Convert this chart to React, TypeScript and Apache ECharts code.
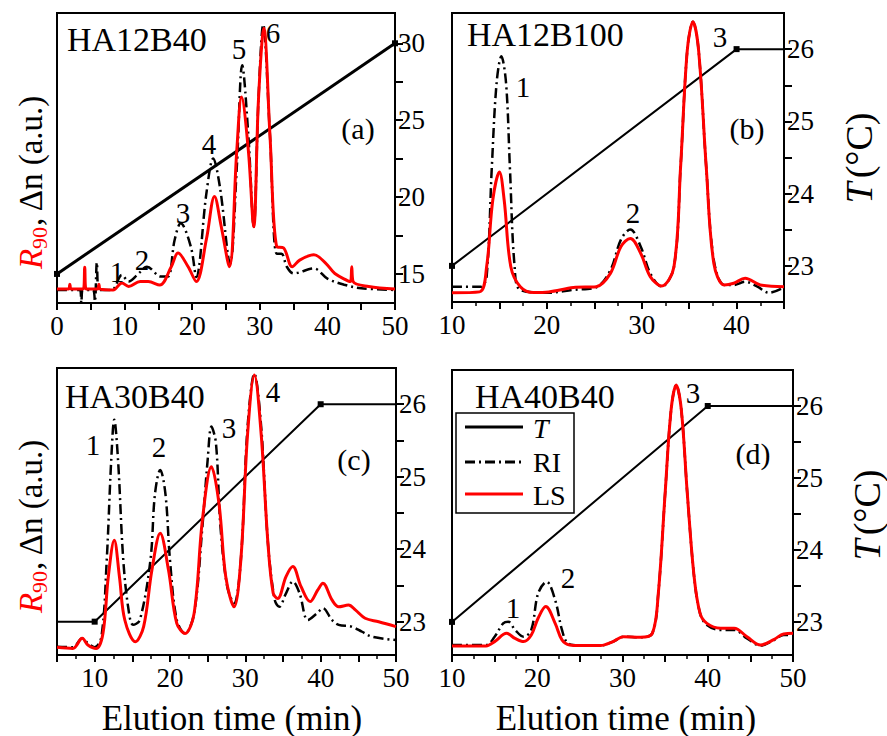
import React, { useEffect, useRef } from "react";
import * as echarts from "echarts";

const FONT = "Liberation Serif";

// ---- data: [elution time (min), signal (a.u., 0-100)] ----
const riA = [[0,4.5],[3.4,4.5],[3.6,0],[3.8,4.5],[5.3,4.5],[5.6,0.5],[5.9,14],[6.2,4.5],[8.1,4.5],[9.6,9.7],[10.6,7.4],[12,10],[13.3,12.5],[15.4,9.1],[16.4,9.1],[17.4,21.7],[18.3,27.5],[19.8,19.4],[20.6,9],[22.1,37.8],[23.1,49.8],[24.1,40],[25.6,13.6],[26.6,47],[27.4,82],[28.3,58],[29.1,26.3],[29.8,70],[30.5,96],[31.5,58],[32.5,17],[33.2,17],[34,12.5],[35,10.2],[38,11.9],[40,8.4],[42.5,6.3],[45,5.1],[50,4.5]];
const lsA = [[0,4.8],[1.7,4.8],[1.9,6.5],[2.1,4.8],[3.9,4.8],[4.1,12.3],[4.3,4.8],[6,4.8],[6.2,6.5],[6.4,4.8],[8.3,4.5],[9.6,6.9],[10.6,5.7],[12.3,7.4],[13.5,7.4],[15.2,6.2],[16.9,12.5],[17.9,17.2],[19.4,12.5],[20.6,7.4],[22.1,22],[23.3,36.7],[24.3,26.3],[25.5,12.5],[26.6,52.8],[27.3,71],[28.3,52.8],[29.1,26.3],[29.8,70],[30.6,94.7],[31.5,58],[32.5,19.4],[33.5,19],[34.8,12.5],[35.9,14.8],[38,16.6],[39.8,13.6],[41.1,10.2],[43.4,7.4],[43.6,12.5],[43.8,7.4],[46.1,5.7],[50,4.8]];
const tempA = [[0,15],[50,30]];

const riB = [[10,5.3],[12.6,5.3],[13.1,5.3],[13.65,8.8],[14.2,46.8],[14.7,75.7],[15.2,85],[15.7,75.7],[16.1,46.8],[16.6,12.2],[17.2,4.2],[20.2,3.2],[22.8,4.2],[25.2,5.1],[26.7,11],[27.8,21.5],[28.8,25.1],[29.9,19.1],[30.9,9.9],[32.1,5.3],[33.4,12.2],[34.1,46.8],[34.8,87],[35.4,97],[36,87],[36.8,46.8],[37.6,14.5],[38.7,5.9],[39.7,5.9],[40.9,7],[42.2,5.3],[43.4,3.2],[45,5.1]];
const lsB = [[10,3.2],[12.9,3.5],[13.65,12.2],[14.3,35.3],[15,45],[15.5,35.3],[16.2,12.2],[17.2,5.3],[18.6,3.3],[20.2,3.5],[22.8,5],[25.2,5.3],[26.7,9.9],[27.8,19.1],[28.8,22],[29.9,16.8],[30.9,8.8],[32.1,5.5],[33.4,12.2],[34.1,46.8],[34.8,87],[35.4,97],[36,87],[36.8,46.8],[37.6,13.4],[38.7,5.9],[39.7,6.5],[40.9,8.2],[42.5,5.9],[45,5.3]];
const tempB = [[10,23],[40,26],[45,26]];

const riC = [[5,2.9],[7.1,2.7],[8.35,5.8],[9.1,4.1],[10,2.7],[10.9,6.4],[11.6,33],[12.2,68],[12.6,82],[13.1,68],[13.8,33],[14.5,15.7],[15.1,10.5],[16,12.2],[17.4,33],[18,56],[18.7,64.5],[19.4,56],[20,33],[20.9,12.2],[22,7.5],[23.2,14.5],[24.3,44.7],[25,68],[25.5,79.6],[26.1,73.8],[26.7,44.7],[27.6,23.8],[28.5,18],[29.4,33],[30.3,79.6],[31.2,98],[32.1,79.6],[33,39],[33.9,19.2],[34.5,16.8],[35.4,21.5],[36.3,25.6],[37.2,21.5],[38.3,12.2],[39.5,14.5],[40.3,16.3],[41.5,12.2],[42.4,10.5],[44.1,9.9],[45.5,8.1],[46.8,6.4],[50,5.2]];
const lsC = [[5,2.7],[7.1,2.3],[8.35,5.8],[9.1,3.5],[10.2,2.3],[11.1,7.5],[11.8,27],[12.6,40],[13.3,27],[14,12.2],[15.4,4.6],[16.5,9.9],[17.6,29.6],[18.7,42.4],[19.8,29.6],[20.9,11],[22,7.5],[23.2,14.5],[24.3,47],[25.5,65.6],[26.5,52.8],[27.4,27.3],[28.5,16.8],[29.4,33],[30.3,77],[31.2,97.6],[32.1,77],[33,39],[33.7,21.5],[34.3,19.7],[35.4,27.3],[36.3,30.8],[37.4,23.8],[38.6,18.6],[39.6,22.6],[40.3,25],[41.5,19.2],[42.4,16.8],[43.7,17.4],[44.6,15.7],[45.9,12.8],[47.7,11.6],[50,9.9]];
const tempC = [[5,23],[10,23],[40,26],[50,26]];

const riD = [[10,3.5],[14,3.5],[15,6.4],[16,11.1],[16.6,11.7],[17.4,8.8],[18.4,6.4],[19.3,8.8],[20.1,21.6],[21.1,25.7],[22.1,19.3],[22.9,8.8],[23.6,4.1],[25,3.3],[27.4,3.3],[28.9,4.7],[30.1,6.4],[32.1,6.2],[33.5,7.6],[34.2,21.6],[35,56.7],[35.7,86],[36.3,94.7],[36.9,86],[37.6,56.7],[38.4,27.5],[39.1,14.6],[39.9,10.5],[41.5,8.8],[43.1,8.8],[44.6,5.8],[46.2,3.3],[47.8,5.3],[48.9,7],[50,7]];
const lsD = [[10,3.2],[14,3.2],[15,4.7],[16.4,7.6],[17.4,5.8],[18.4,4.7],[19.3,7],[20.1,12.9],[21,17],[22.1,11.1],[22.9,5.3],[23.8,3.5],[25,3.3],[27.4,3.3],[28.9,4.7],[30.1,6.4],[32.1,6.2],[33.5,7.6],[34.2,21.6],[35,56.7],[35.7,86],[36.3,94.7],[36.9,86],[37.6,56.7],[38.4,27.5],[39.1,14.6],[39.9,11.1],[41.5,9.4],[43.1,9.4],[44.6,6.4],[46.2,3.5],[47.8,5.5],[48.9,7.4],[50,7.6]];
const tempD = [[10,23],[40,26],[50,26]];

// axis tick labels
const xLabelStep = 10;
const tLabelsA = [15, 20, 25, 30];
const tTicksA = [15, 17.5, 20, 22.5, 25, 27.5, 30];
const tLabelsBCD = [23, 24, 25, 26];
const tTicksBCD = [23, 23.5, 24, 24.5, 25, 25.5, 26];

const panels = [
  { ri: riA, ls: lsA, temp: tempA, xMin: 0, xMax: 50, tMin: 13.11, tMax: 31.97, tLabels: tLabelsA, tTicks: tTicksA, minor: false, tWidth: 3,
    grid: { left: 57, top: 13, width: 338, height: 290 } },
  { ri: riB, ls: lsB, temp: tempB, xMin: 10, xMax: 45, tMin: 22.5, tMax: 26.5, tLabels: tLabelsBCD, tTicks: tTicksBCD, minor: true, tWidth: 2,
    grid: { left: 452, top: 13, width: 332, height: 289 } },
  { ri: riC, ls: lsC, temp: tempC, xMin: 5, xMax: 50, tMin: 22.54, tMax: 26.5, tLabels: tLabelsBCD, tTicks: tTicksBCD, minor: true, tWidth: 2,
    grid: { left: 57, top: 368, width: 339, height: 287 } },
  { ri: riD, ls: lsD, temp: tempD, xMin: 10, xMax: 50, tMin: 22.54, tMax: 26.5, tLabels: tLabelsBCD, tTicks: tTicksBCD, minor: true, tWidth: 2,
    grid: { left: 452, top: 370, width: 341, height: 285 } },
];

const RI_DASH = [10, 4, 2, 4];

function tempData(temp: number[][]) {
  const slope = (a: number[], b: number[]) => a[1] !== b[1];
  return temp.map((p, i) => {
    const prev = i > 0 ? slope(temp[i - 1], p) : null;
    const next = i < temp.length - 1 ? slope(p, temp[i + 1]) : null;
    let mark = false;
    if (prev === null) mark = !!next;
    else if (next === null) mark = !!prev;
    else mark = prev !== next;
    return { value: p, symbol: mark ? "rect" : "none", symbolSize: 6 };
  });
}

function txt(x: number, y: number, text: string, size: number, extra: any = {}) {
  return {
    type: "text", x, y, z: 50,
    style: { text, fontSize: size, fontFamily: FONT, fill: "#000", align: "center", verticalAlign: "middle", ...extra },
  };
}

function yTitle(x: number, y: number) {
  return {
    type: "group", x, y, rotation: Math.PI / 2, z: 50,
    children: [
      { type: "text", x: 0, y: 0, style: { text: "R", fontSize: 33, fontStyle: "italic", fontFamily: FONT, fill: "#ff0000", align: "left", verticalAlign: "middle" } },
      { type: "text", x: 20, y: 8, style: { text: "90", fontSize: 22, fontFamily: FONT, fill: "#ff0000", align: "left", verticalAlign: "middle" } },
      { type: "text", x: 43, y: 0, style: { text: ", Δn (a.u.)", fontSize: 33, fontFamily: FONT, fill: "#000", align: "left", verticalAlign: "middle" } },
    ],
  };
}

function tTitle(x: number, y: number) {
  return {
    type: "text", x, y, rotation: Math.PI / 2, z: 50,
    style: {
      text: "{i|T}{n|(°C)}", align: "center", verticalAlign: "middle",
      rich: {
        i: { fontSize: 38, fontStyle: "italic", fontFamily: FONT, fill: "#000", padding: [0, 4, 0, 0] },
        n: { fontSize: 38, fontFamily: FONT, fill: "#000" },
      },
    },
  };
}

export default function App() {
  const ref = useRef<HTMLDivElement>(null);
  useEffect(() => {
    if (!ref.current) return;
    const chart = echarts.init(ref.current, null, { renderer: "svg" });
    const grid: any[] = [];
    const xAxis: any[] = [];
    const yAxis: any[] = [];
    const series: any[] = [];
    panels.forEach((p, i) => {
      grid.push({ ...p.grid, show: true, borderColor: "#000", borderWidth: 2, backgroundColor: "transparent" });
      xAxis.push({
        type: "value", gridIndex: i, min: p.xMin, max: p.xMax, interval: 5,
        axisLine: { show: true, onZero: false, lineStyle: { color: "#000", width: 2 } },
        axisTick: { show: true, inside: false, length: 7, lineStyle: { color: "#000", width: 2 } },
        minorTick: { show: p.minor, splitNumber: 2, length: 4, lineStyle: { color: "#000", width: 1.5 } },
        axisLabel: {
          color: "#000", fontSize: 27, fontFamily: FONT, margin: 9, showMinLabel: true, showMaxLabel: true,
          formatter: (v: number) => (v % xLabelStep === 0 ? String(v) : ""),
        },
        splitLine: { show: false }, minorSplitLine: { show: false },
      });
      yAxis.push({ type: "value", gridIndex: i, min: 0, max: 100, show: false });
      yAxis.push({
        type: "value", gridIndex: i, position: "right", min: p.tMin, max: p.tMax,
        axisLine: { show: true, onZero: false, lineStyle: { color: "#000", width: 2 } },
        axisTick: { show: true, inside: false, length: 8, customValues: p.tTicks, lineStyle: { color: "#000", width: 2 } },
        axisLabel: { show: true, customValues: p.tLabels, color: "#000", fontSize: 27, fontFamily: FONT, margin: 3 },
        splitLine: { show: false },
      });
      series.push({
        type: "line", xAxisIndex: i, yAxisIndex: 2 * i + 1, data: tempData(p.temp),
        lineStyle: { color: "#000", width: p.tWidth }, itemStyle: { color: "#000" }, showSymbol: true, z: 3,
      });
      series.push({
        type: "line", xAxisIndex: i, yAxisIndex: 2 * i, data: p.ri, smooth: 0.35, symbol: "none",
        lineStyle: { color: "#000", width: 2.5, type: RI_DASH }, z: 4,
      });
      series.push({
        type: "line", xAxisIndex: i, yAxisIndex: 2 * i, data: p.ls, smooth: 0.35, symbol: "none",
        lineStyle: { color: "#ff0000", width: 3 }, z: 5,
      });
    });

    const graphic: any[] = [
      // panel (a)
      txt(67, 39, "HA12B40", 34, { align: "left" }),
      txt(117, 272, "1", 29), txt(142, 260, "2", 29), txt(183, 213, "3", 29),
      txt(209, 144, "4", 29), txt(239, 49, "5", 29), txt(273, 33, "6", 29),
      txt(358, 128, "(a)", 30),
      yTitle(31, 269),
      // panel (b)
      txt(467, 34, "HA12B100", 34, { align: "left" }),
      txt(523, 87, "1", 29), txt(633, 213, "2", 29), txt(720, 37, "3", 29),
      txt(747, 128, "(b)", 30),
      tTitle(859, 158),
      // panel (c)
      txt(65, 396, "HA30B40", 34, { align: "left" }),
      txt(93, 445, "1", 29), txt(159, 447, "2", 29), txt(229, 428, "3", 29), txt(273, 392, "4", 29),
      txt(354, 459, "(c)", 30),
      yTitle(31, 613),
      txt(232, 718, "Elution time (min)", 35),
      // panel (d)
      txt(475, 396, "HA40B40", 34, { align: "left" }),
      txt(513, 608, "1", 29), txt(568, 578, "2", 29), txt(693, 393, "3", 29),
      txt(753, 453, "(d)", 30),
      tTitle(867, 515),
      txt(626, 718, "Elution time (min)", 35),
      // legend (d)
      { type: "rect", z: 60, shape: { x: 456, y: 413, width: 118, height: 100 }, style: { fill: "#fff", stroke: "#000", lineWidth: 1.5 } },
      { type: "line", z: 61, shape: { x1: 465, y1: 427, x2: 523, y2: 427 }, style: { stroke: "#000", lineWidth: 3 } },
      { type: "line", z: 61, shape: { x1: 465, y1: 462, x2: 523, y2: 462 }, style: { stroke: "#000", lineWidth: 3, lineDash: RI_DASH } },
      { type: "line", z: 61, shape: { x1: 465, y1: 494, x2: 523, y2: 494 }, style: { stroke: "#ff0000", lineWidth: 3 } },
      { ...txt(533, 428, "T", 28, { align: "left", fontStyle: "italic" }), z: 62 },
      { ...txt(533, 462, "RI", 28, { align: "left" }), z: 62 },
      { ...txt(533, 495, "LS", 28, { align: "left" }), z: 62 },
    ];

    chart.setOption({
      animation: false,
      backgroundColor: "#fff",
      textStyle: { fontFamily: FONT },
      grid, xAxis, yAxis, series, graphic,
    });
    return () => chart.dispose();
  }, []);
  return <div ref={ref} style={{ position: "fixed", left: 0, top: 0, width: 887, height: 736 }} />;
}
